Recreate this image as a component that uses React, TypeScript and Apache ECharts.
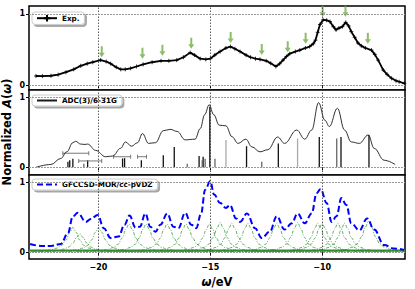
import React, { useEffect, useRef } from 'react';
import * as echarts from 'echarts';

const X_MIN = -23.1;
const X_MAX = -6.3;
const X_TICKS = [-20, -15, -10];
const Y_TICKS = [0, 1];

const EXP_NAME = 'Exp.';
const ADC_NAME = 'ADC(3)/6-31G';
const GF_NAME = 'GFCCSD-MOR/cc-pVDZ';

const EXP_DATA = [
  [-22.79, 0.127], [-22.5, 0.125], [-22.12, 0.13], [-21.8, 0.145], [-21.45, 0.18], [-21.1, 0.22],
  [-20.79, 0.27], [-20.5, 0.3], [-20.25, 0.32], [-19.9, 0.35], [-19.65, 0.33], [-19.45, 0.3],
  [-19.2, 0.25], [-19.0, 0.22], [-18.8, 0.22], [-18.56, 0.235], [-18.3, 0.26], [-18.0, 0.29],
  [-17.6, 0.32], [-17.2, 0.34], [-16.85, 0.34], [-16.5, 0.35], [-16.2, 0.39], [-15.9, 0.455],
  [-15.7, 0.42], [-15.45, 0.37], [-15.2, 0.36], [-15.0, 0.37], [-14.8, 0.42], [-14.56, 0.47],
  [-14.3, 0.52], [-14.1, 0.54], [-13.9, 0.51], [-13.67, 0.47], [-13.4, 0.42], [-13.2, 0.39],
  [-12.98, 0.37], [-12.78, 0.36], [-12.5, 0.34], [-12.3, 0.305], [-12.07, 0.26], [-11.9, 0.3],
  [-11.75, 0.35], [-11.6, 0.4], [-11.45, 0.44], [-11.2, 0.47], [-11.0, 0.49], [-10.75, 0.52],
  [-10.56, 0.54], [-10.4, 0.58], [-10.3, 0.63], [-10.2, 0.74], [-10.1, 0.85], [-9.96, 0.915],
  [-9.8, 0.91], [-9.65, 0.89], [-9.5, 0.82], [-9.38, 0.775], [-9.25, 0.8], [-9.1, 0.82],
  [-8.95, 0.88], [-8.82, 0.83], [-8.7, 0.75], [-8.55, 0.67], [-8.4, 0.59], [-8.25, 0.55],
  [-8.07, 0.52], [-7.8, 0.49], [-7.65, 0.43], [-7.5, 0.35], [-7.27, 0.21], [-7.1, 0.15],
  [-6.9, 0.094], [-6.7, 0.06], [-6.56, 0.046], [-6.33, 0.024],
];

const ARROW_POS = [
  [-19.85, 0.39], [-18.03, 0.37], [-17.14, 0.41], [-15.85, 0.51], [-14.09, 0.59], [-12.7, 0.42],
  [-11.54, 0.46], [-10.74, 0.58], [-9.98, 0.96], [-8.96, 0.96], [-7.96, 0.58],
];

const ADC_CURVE = [
  [-22.79, 0.0], [-22.12, 0.04], [-21.68, 0.125], [-21.41, 0.22], [-21.14, 0.35], [-21.02, 0.37],
  [-20.79, 0.33], [-20.6, 0.325], [-20.48, 0.33], [-20.12, 0.24], [-19.68, 0.15], [-19.36, 0.16],
  [-19.01, 0.27], [-18.79, 0.36], [-18.52, 0.3], [-18.25, 0.35], [-18.03, 0.48], [-17.76, 0.34],
  [-17.45, 0.35], [-17.1, 0.52], [-16.79, 0.54], [-16.48, 0.51], [-16.12, 0.39], [-15.68, 0.4],
  [-15.45, 0.55], [-15.25, 0.75], [-15.05, 0.89], [-14.85, 0.75], [-14.6, 0.6], [-14.3, 0.59],
  [-14.03, 0.435], [-13.76, 0.34], [-13.41, 0.4], [-13.14, 0.29], [-12.78, 0.22], [-12.43, 0.25],
  [-11.99, 0.43], [-11.68, 0.34], [-11.14, 0.53], [-10.78, 0.4], [-10.47, 0.53], [-10.16, 0.92],
  [-9.88, 0.67], [-9.68, 0.58], [-9.32, 0.84], [-9.0, 0.53], [-8.7, 0.36], [-8.34, 0.34],
  [-7.94, 0.46], [-7.68, 0.27], [-7.23, 0.1], [-6.74, 0.04],
];

const ADC_STICKS_BLACK = [
  [-21.36, 0.08], [-21.28, 0.1], [-21.14, 0.12], [-20.48, 0.1], [-18.92, 0.125], [-18.83, 0.13],
  [-18.08, 0.1], [-17.1, 0.17], [-16.61, 0.29], [-15.5, 0.16], [-15.32, 0.15], [-15.02, 0.86],
  [-13.38, 0.3], [-11.96, 0.34], [-10.13, 0.43], [-9.16, 0.43], [-7.91, 0.46],
];
const ADC_STICKS_GRAY = [
  [-20.65, 0.05], [-16.03, 0.05], [-15.36, 0.1], [-15.23, 0.12], [-14.79, 0.12], [-12.7, 0.08],
  [-9.35, 0.41],
];
const ADC_STICKS_LIGHT = [[-14.3, 0.39], [-11.1, 0.41]];

const ADC_BRACKETS = [
  [-21.59, -20.43, 0.2],
  [-20.88, -19.85, 0.09],
  [-19.32, -18.56, 0.15],
  [-18.25, -17.85, 0.15],
];

const GF_CURVE = [
  [-23.05, 0.115], [-22.56, 0.086], [-22.12, 0.086], [-21.68, 0.115], [-21.36, 0.27], [-21.14, 0.51],
  [-20.92, 0.56], [-20.56, 0.43], [-20.34, 0.47], [-20.03, 0.53], [-19.76, 0.34], [-19.45, 0.2],
  [-19.1, 0.22], [-18.83, 0.39], [-18.61, 0.52], [-18.34, 0.35], [-18.15, 0.36], [-17.9, 0.55],
  [-17.68, 0.36], [-17.45, 0.29], [-17.23, 0.39], [-16.92, 0.55], [-16.65, 0.36], [-16.43, 0.34],
  [-16.12, 0.56], [-15.85, 0.39], [-15.63, 0.34], [-15.41, 0.55], [-15.23, 0.89], [-15.0, 1.01],
  [-14.83, 0.82], [-14.56, 0.7], [-14.3, 0.63], [-14.12, 0.67], [-13.85, 0.48], [-13.67, 0.43],
  [-13.36, 0.55], [-13.0, 0.34], [-12.7, 0.2], [-12.34, 0.29], [-12.03, 0.51], [-11.68, 0.32],
  [-11.36, 0.41], [-11.1, 0.55], [-10.78, 0.41], [-10.47, 0.55], [-10.25, 0.84], [-10.07, 0.9],
  [-9.8, 0.7], [-9.58, 0.43], [-9.36, 0.51], [-9.14, 0.77], [-8.92, 0.67], [-8.7, 0.41],
  [-8.34, 0.31], [-7.99, 0.48], [-7.68, 0.32], [-7.23, 0.1], [-6.79, 0.05], [-6.34, 0.03],
];

// component peaks: centre, height
const GF_PEAKS = [
  [-21.14, 0.35], [-20.83, 0.26], [-19.99, 0.35], [-18.63, 0.4], [-17.87, 0.4], [-16.93, 0.4],
  [-16.09, 0.4], [-15.04, 0.4], [-14.56, 0.42], [-14.04, 0.41], [-13.32, 0.41], [-12.03, 0.41],
  [-11.1, 0.42], [-10.2, 0.41], [-10.0, 0.41], [-9.3, 0.41], [-9.0, 0.41], [-7.93, 0.44],
];
// shape of one component (offset in eV, fraction of peak height)
const PEAK_OFFSETS = [-3, -2, -1.5, -1, -0.7, -0.5, -0.3, -0.15, 0, 0.15, 0.3, 0.5, 0.7, 1, 1.5, 2, 3];
const PEAK_REL = [0.01, 0.022, 0.04, 0.08, 0.16, 0.27, 0.5, 0.8, 1, 0.8, 0.5, 0.27, 0.16, 0.08, 0.04, 0.022, 0.01];
const GF_BASELINE = [[X_MIN, 0.02], [X_MAX, 0.02]];

const FONT = 'DejaVu Sans';
const GREEN = '#3a9a3a';
const ARROW_GREEN = '#72ad45';

export default function App() {
  const ref = useRef<HTMLDivElement>(null);
  useEffect(() => {
    if (!ref.current) return;
    const chart = echarts.init(ref.current, undefined, { renderer: 'svg' });

    const grids = [
      { top: 6, height: 84, min: -0.07, max: 1.11 },
      { top: 90, height: 85, min: -0.11, max: 1.1 },
      { top: 175, height: 84, min: -0.1, max: 1.1 },
    ];

    const gridLines = {
      silent: true,
      symbol: ['none', 'none'],
      label: { show: false },
      animation: false,
      data: [
        ...X_TICKS.map((v) => ({ xAxis: v, lineStyle: { color: '#333', width: 0.8, type: [1.5, 1.5] } })),
        ...Y_TICKS.map((v) => ({ yAxis: v, lineStyle: { color: '#999', width: 1, type: [2, 1] } })),
      ],
    };

    const series: any[] = [];
    // panel 1
    series.push({
      name: EXP_NAME, type: 'line', xAxisIndex: 0, yAxisIndex: 0, data: EXP_DATA,
      symbol: 'path://M0,5H10M5,0V10', symbolSize: 4, showSymbol: true,
      itemStyle: { color: '#000', borderColor: '#000', borderWidth: 0.8 },
      lineStyle: { color: '#000', width: 1.8 }, z: 3,
      markLine: gridLines,
    });
    series.push({
      type: 'scatter', xAxisIndex: 0, yAxisIndex: 0, data: ARROW_POS,
      symbol: 'path://M2,0L4,0L4,6.5L6,6.5L3,11L0,6.5L2,6.5Z', symbolSize: [6, 11],
      symbolOffset: [0, '-50%'], itemStyle: { color: ARROW_GREEN }, z: 4,
    });
    // panel 2
    const sticks = [
      ...ADC_STICKS_BLACK.map((d) => ({ value: d, itemStyle: { color: '#111' } })),
      ...ADC_STICKS_GRAY.map((d) => ({ value: d, itemStyle: { color: '#666' } })),
      ...ADC_STICKS_LIGHT.map((d) => ({ value: d, itemStyle: { color: '#aaa' } })),
    ];
    series.push({
      type: 'bar', xAxisIndex: 1, yAxisIndex: 1, data: sticks, barWidth: 1.3, z: 2,
    });
    ADC_BRACKETS.forEach(([a, b, y]) => {
      series.push({
        type: 'line', xAxisIndex: 1, yAxisIndex: 1, data: [[a, y], [b, y]],
        symbol: 'rect', symbolSize: [1, 4], itemStyle: { color: '#777' },
        lineStyle: { color: '#777', width: 1 }, z: 2,
      });
    });
    series.push({
      name: ADC_NAME, type: 'line', xAxisIndex: 1, yAxisIndex: 1, data: ADC_CURVE,
      symbol: 'none', smooth: 0.4, smoothMonotone: 'x',
      itemStyle: { color: '#555' },
      lineStyle: { color: '#1a1a1a', width: 0.9 }, z: 3,
      markLine: gridLines,
    });
    // panel 3
    GF_PEAKS.forEach(([c, h]) => {
      series.push({
        type: 'line', xAxisIndex: 2, yAxisIndex: 2,
        data: PEAK_OFFSETS.map((o, i) => [c + o, h * PEAK_REL[i]]),
        symbol: 'none', smooth: 0.4, smoothMonotone: 'x',
        lineStyle: { color: GREEN, width: 0.8, type: [3, 1.5, 1, 1.5] }, z: 2,
      });
    });
    series.push({
      type: 'line', xAxisIndex: 2, yAxisIndex: 2, data: GF_BASELINE, symbol: 'none',
      lineStyle: { color: '#2f8f2f', width: 2 }, z: 2,
    });
    series.push({
      name: GF_NAME, type: 'line', xAxisIndex: 2, yAxisIndex: 2, data: GF_CURVE,
      symbol: 'none', smooth: 0.4, smoothMonotone: 'x',
      itemStyle: { color: '#0000ff' },
      lineStyle: { color: '#0000ff', width: 2, type: [6, 3] }, z: 4,
      markLine: gridLines,
    });

    const legendBase = {
      left: 32, orient: 'horizontal', backgroundColor: '#fff', borderColor: '#ccc', borderWidth: 1,
      borderRadius: 3, padding: [2, 5, 2, 4], itemWidth: 20, itemHeight: 8, itemGap: 4,
      shadowColor: 'rgba(0,0,0,0.35)', shadowOffsetX: 2, shadowOffsetY: 2, shadowBlur: 0,
      textStyle: { fontFamily: FONT, fontSize: 7.2, fontWeight: 'bold', color: '#000' },
      selectedMode: false,
    };

    chart.setOption({
      animation: false,
      backgroundColor: '#fff',
      textStyle: { fontFamily: FONT },
      grid: grids.map((g) => ({
        left: 29, right: 10, top: g.top, height: g.height, show: true,
        borderColor: '#000', borderWidth: 1.5, backgroundColor: '#fff', containLabel: false,
      })),
      xAxis: grids.map((g, i) => ({
        type: 'value', gridIndex: i, min: X_MIN, max: X_MAX,
        axisLine: { show: false },
        axisTick: { show: true, customValues: X_TICKS, length: 3, lineStyle: { color: '#000', width: 1 } },
        axisLabel: {
          show: i === 2, customValues: X_TICKS, margin: 4,
          formatter: (v: number) => String(v).replace('-', '\u2212'),
          fontFamily: FONT, fontSize: 8, fontWeight: 'bold', color: '#000',
        },
        splitLine: { show: false },
        name: i === 2 ? '{w|\u03c9}{r|/eV}' : '',
        nameLocation: 'middle', nameGap: 17,
        nameTextStyle: {
          rich: {
            w: { fontFamily: FONT, fontSize: 11.5, fontWeight: 'bold', fontStyle: 'italic', color: '#000' },
            r: { fontFamily: FONT, fontSize: 11.5, fontWeight: 'bold', color: '#000' },
          },
        },
      })),
      yAxis: grids.map((g, i) => ({
        type: 'value', gridIndex: i, min: g.min, max: g.max,
        axisLine: { show: false },
        axisTick: { show: true, customValues: Y_TICKS, length: 3, lineStyle: { color: '#000', width: 1 } },
        axisLabel: {
          show: true, customValues: Y_TICKS, margin: 4,
          fontFamily: FONT, fontSize: 8, fontWeight: 'bold', color: '#000',
        },
        splitLine: { show: false },
      })),
      legend: [
        { ...legendBase, top: 12, data: [EXP_NAME] },
        { ...legendBase, top: 95, data: [ADC_NAME], itemStyle: { opacity: 0 } },
        { ...legendBase, top: 179, data: [GF_NAME], itemStyle: { opacity: 0 } },
      ],
      graphic: [
        {
          type: 'text', x: 7, y: 132, rotation: Math.PI / 2,
          style: {
            text: '{r|Normalized }{i|A}{r|(}{i|\u03c9}{r|)}',
            align: 'center', verticalAlign: 'middle',
            rich: {
              r: { fontFamily: FONT, fontSize: 11.5, fontWeight: 'bold', fill: '#000' },
              i: { fontFamily: FONT, fontSize: 11.5, fontWeight: 'bold', fontStyle: 'italic', fill: '#000' },
            },
          },
        },
      ],
      series,
    });
    return () => chart.dispose();
  }, []);
  return <div ref={ref} style={{ position: 'fixed', left: 0, top: 0, width: 415, height: 289 }} />;
}
